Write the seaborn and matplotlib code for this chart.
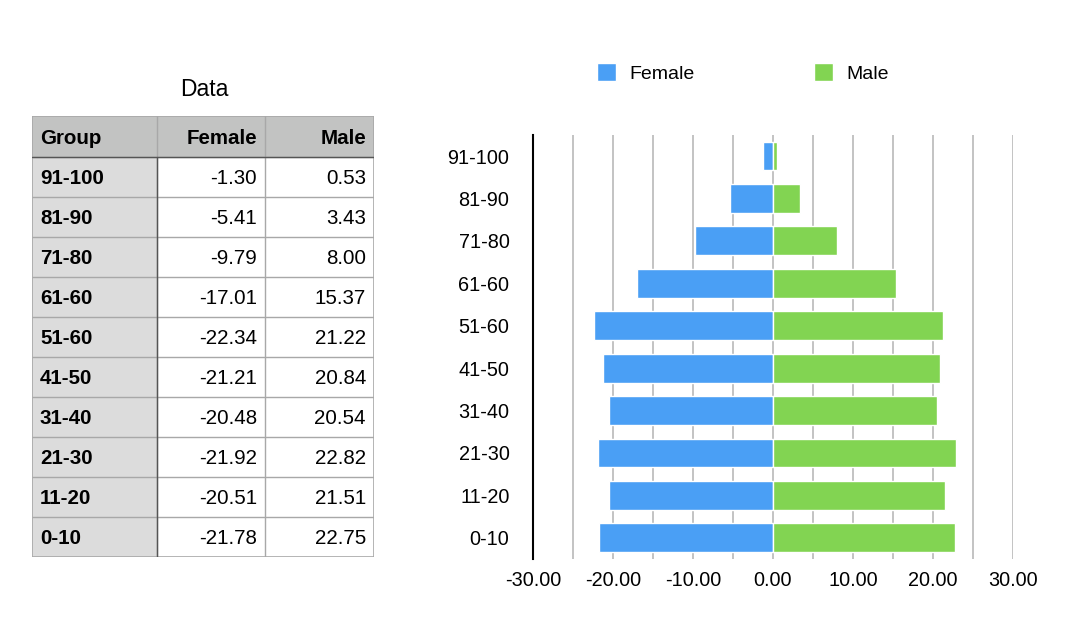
import numpy as np
import pandas as pd
import seaborn as sns
import matplotlib.pyplot as plt
from matplotlib.patches import Rectangle, Patch

groups = ["91-100", "81-90", "71-80", "61-60", "51-60", "41-50",
          "31-40", "21-30", "11-20", "0-10"]
female = [-1.30, -5.41, -9.79, -17.01, -22.34, -21.21, -20.48, -21.92, -20.51, -21.78]
male = [0.53, 3.43, 8.00, 15.37, 21.22, 20.84, 20.54, 22.82, 21.51, 22.75]

BLUE = "#4a9ff5"
GREEN = "#82d452"

sns.set_theme(style="white")
plt.rcParams["font.family"] = ["Liberation Sans", "DejaVu Sans"]
plt.rcParams["text.color"] = "black"
plt.rcParams["xtick.color"] = "black"
plt.rcParams["ytick.color"] = "black"

df = pd.DataFrame({"Group": groups, "Female": female, "Male": male})

fig = plt.figure(figsize=(10.8, 6.28), dpi=100)

# ---- table on the left ----
tax = fig.add_axes([32 / 1080, (628 - 557) / 628, 342 / 1080, 441 / 628])
tax.set_xlim(0, 342)
tax.set_ylim(441, 0)
tax.axis("off")

col_x = [0, 125, 233, 342]
head_h = 41
row_h = 40
line_c = "#a8a8a8"
fs = 14.8
dy = 2  # small downward nudge of the cell text

tax.add_patch(Rectangle((0, 0), 342, head_h, facecolor="#c2c3c2", edgecolor="none"))
tax.add_patch(Rectangle((0, head_h), 125, 441 - head_h, facecolor="#dcdcdc", edgecolor="none"))

for i, name in enumerate(df.columns):
    if i == 0:
        tax.text(col_x[0] + 8, head_h / 2 + dy, name, ha="left", va="center",
                 fontsize=fs, fontweight="bold")
    else:
        tax.text(col_x[i + 1] - 8, head_h / 2 + dy, name, ha="right", va="center",
                 fontsize=fs, fontweight="bold")

for r, row in df.iterrows():
    yc = head_h + row_h * r + row_h / 2 + dy
    tax.text(col_x[0] + 8, yc, row["Group"], ha="left", va="center",
             fontsize=fs, fontweight="bold")
    tax.text(col_x[2] - 8, yc, f"{row['Female']:.2f}", ha="right", va="center", fontsize=fs)
    tax.text(col_x[3] - 8, yc, f"{row['Male']:.2f}", ha="right", va="center", fontsize=fs)

# grid lines of the table
for r in range(1, len(df) + 1):
    y = head_h + row_h * (r - 1)
    tax.plot([0, 342], [y, y], color=line_c, lw=1, solid_capstyle="butt")
for x in col_x[1:-1]:
    tax.plot([x, x], [0, 441], color=line_c, lw=1)
tax.plot([125, 125], [head_h, 441], color="#555555", lw=1)
tax.plot([0, 342], [head_h, head_h], color="#555555", lw=1)
tax.add_patch(Rectangle((0, 0), 342, 441, facecolor="none", edgecolor=line_c, lw=1.2))

fig.text(204 / 1080, 1 - 89 / 628, "Data", ha="center", va="center", fontsize=16.5)

# ---- pyramid chart on the right ----
ax = fig.add_axes([533 / 1080, (628 - 559) / 628, 480 / 1080, 424.2 / 628])
sns.barplot(data=df, x="Female", y="Group", order=groups, color=BLUE,
            width=0.68, orient="h", ax=ax, saturation=1, zorder=3)
sns.barplot(data=df, x="Male", y="Group", order=groups, color=GREEN,
            width=0.68, orient="h", ax=ax, saturation=1, zorder=3)

ax.set_xlim(-30, 30)
ax.set_xticks(np.arange(-30, 31, 10))
ax.set_xticklabels([f"{v:.2f}" for v in np.arange(-30, 31, 10)])
for v in np.arange(-25, 31, 5):
    ax.axvline(v, color="#b9b9b9", lw=1.2, zorder=1)
ax.set_xlabel("")
ax.set_ylabel("")
ax.tick_params(axis="x", length=0, pad=9, labelsize=14.3)
ax.tick_params(axis="y", length=0, pad=17, labelsize=14.3)
for side in ["top", "right", "bottom"]:
    ax.spines[side].set_visible(False)
ax.spines["left"].set_color("black")
ax.spines["left"].set_linewidth(1.5)
ax.spines["left"].set_zorder(4)

handles = [Patch(facecolor=BLUE, label="Female"), Patch(facecolor=GREEN, label="Male")]
fig.legend(handles=handles, loc="center", bbox_to_anchor=(743 / 1080, 1 - 73 / 628),
           ncol=2, frameon=False, fontsize=14, handlelength=1.0, handleheight=1.0,
           handletextpad=0.7, columnspacing=6.1)

fig.savefig("out.png", dpi=100)
